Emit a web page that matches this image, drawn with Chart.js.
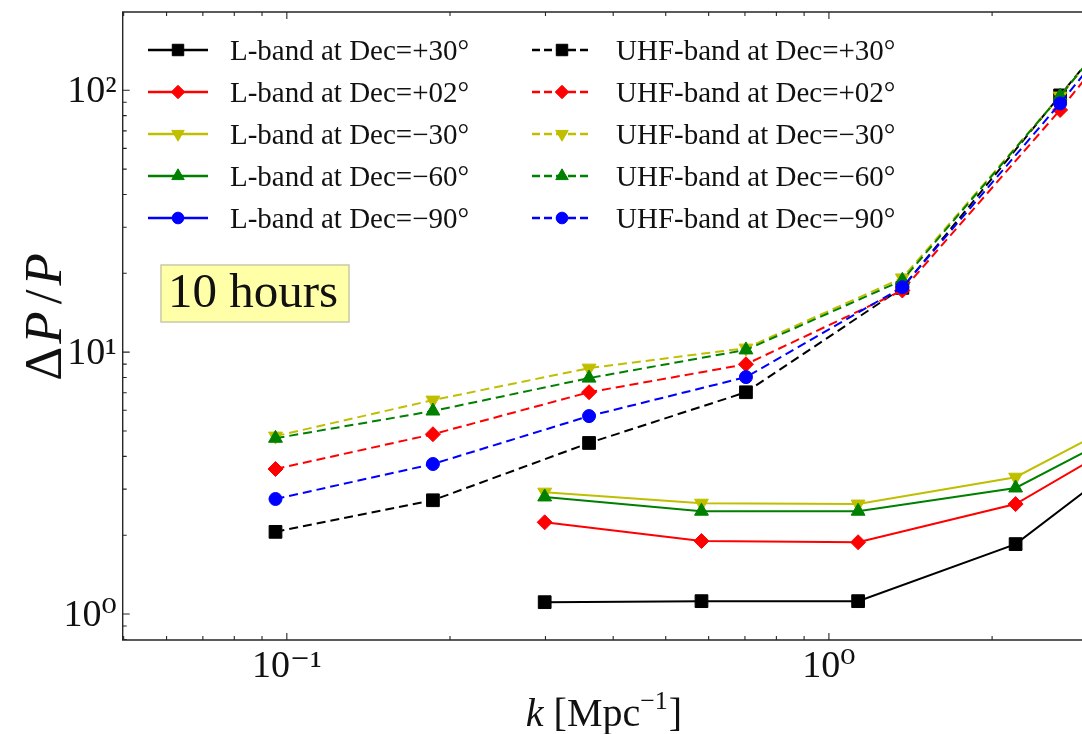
<!DOCTYPE html>
<html>
<head>
<meta charset="utf-8">
<script src="https://cdn.jsdelivr.net/npm/chart.js@4.4.0/dist/chart.umd.min.js"></script>
<style>
  html, body { margin: 0; padding: 0; background: #fff; overflow: hidden; }
  canvas { display: block; }
</style>
</head>
<body>
<canvas id="psChart" width="1082" height="734"></canvas>
<script>
// k [Mpc^-1] sampled by each band
const kUHF = [0.0953, 0.186, 0.361, 0.703, 1.366, 2.67, 5.2];
const kL = [0.299, 0.582, 1.132, 2.21, 4.3];

// Delta P / P, UHF-band (dashed)
const uhfP30 = [2.06, 2.72, 4.50, 7.03, 17.6, 95.6, 520];
const uhfP02 = [3.58, 4.86, 7.03, 8.99, 17.2, 84.1, 470];
const uhfM30 = [4.78, 6.56, 8.69, 10.36, 19.2, 95.0, 520];
const uhfM60 = [4.69, 5.96, 7.96, 10.2, 18.8, 95.0, 520];
const uhfM90 = [2.75, 3.74, 5.70, 8.03, 17.7, 89.1, 490];

// Delta P / P, L-band (solid)
const lP30 = [1.11, 1.12, 1.12, 1.85, 5.29];
const lP02 = [2.24, 1.90, 1.88, 2.63, 5.87];
const lM30 = [2.92, 2.65, 2.63, 3.33, 6.85];
const lM60 = [2.80, 2.47, 2.47, 3.03, 6.22];
const lM90 = []; // no L-band point at Dec=-90 shows in this range

const decs = ["+30°", "+02°", "−30°", "−60°", "−90°"];
const xTicks = [0.1, 1];
const yTicks = [1, 10, 100];

const colors = ["#000000", "#ff0000", "#bfbf00", "#008000", "#0000ff"];
const markers = ["rect", "rectRot", "triangle", "triangle", "circle"];
const markerRot = [0, 0, 180, 0, 0];
const markerSize = [9, 7.5, 8, 8, 6.5];

const SERIF = "'Liberation Serif', 'DejaVu Serif', serif";
const SUP = { "-": "⁻", "0": "⁰", "1": "¹", "2": "²", "3": "³" };
const pow10 = v => "10" + String(Math.round(Math.log10(v))).split("").map(c => SUP[c]).join("");

function makeSet(label, ks, vals, i, dashed, n) {
  return {
    label: label,
    data: vals.map((v, j) => ({ x: ks[j], y: v })),
    borderColor: colors[i],
    backgroundColor: colors[i],
    borderWidth: 2,
    borderDash: dashed ? [9, 5] : [],
    pointStyle: markers[i],
    pointRotation: markerRot[i],
    pointRadius: markerSize[i],
    pointHoverRadius: markerSize[i],
    pointBorderWidth: 1,
    pointBorderColor: colors[i],
    pointBackgroundColor: colors[i],
    tension: 0,
    order: 20 - n
  };
}

const lSets = [lP30, lP02, lM30, lM60, lM90];
const uSets = [uhfP30, uhfP02, uhfM30, uhfM60, uhfM90];
const datasets = [];
lSets.forEach((d, i) => datasets.push(makeSet("L-band at Dec=" + decs[i], kL, d, i, false, datasets.length)));
uSets.forEach((d, i) => datasets.push(makeSet("UHF-band at Dec=" + decs[i], kUHF, d, i, true, datasets.length)));

function logTicks(min, max) {
  const out = [];
  for (let e = Math.floor(Math.log10(min)); e <= Math.ceil(Math.log10(max)); e++) {
    for (let m = 1; m < 10; m++) {
      const v = m * Math.pow(10, e);
      if (v >= min && v <= max) out.push({ v: v, major: m === 1 });
    }
  }
  return out;
}

// draw text made of runs with different fonts, centred on (cx, base)
function drawRuns(ctx, runs, cx, base) {
  let w = 0;
  runs.forEach(r => { ctx.font = r.font; w += (r.pre || 0) + ctx.measureText(r.t).width + (r.post || 0); });
  let x = cx - w / 2;
  ctx.textAlign = "left";
  ctx.textBaseline = "alphabetic";
  runs.forEach(r => {
    ctx.font = r.font;
    x += r.pre || 0;
    ctx.fillText(r.t, x, base + (r.dy || 0));
    x += ctx.measureText(r.t).width + (r.post || 0);
  });
}

const framePlugin = {
  id: "frame",
  afterDraw(chart) {
    const { ctx, chartArea: a, scales } = chart;
    const x = scales.x, y = scales.y;
    ctx.save();
    ctx.strokeStyle = "#262626";
    ctx.lineWidth = 1.4;
    ctx.beginPath();
    ctx.moveTo(a.right + 2, a.top);
    ctx.lineTo(a.left, a.top);
    ctx.lineTo(a.left, a.bottom);
    ctx.lineTo(a.right + 2, a.bottom);
    ctx.stroke();

    ctx.lineWidth = 1.1;
    ctx.beginPath();
    logTicks(x.min, x.max).forEach(t => {
      const px = x.getPixelForValue(t.v);
      const len = t.major ? 7 : 4;
      ctx.moveTo(px, a.bottom); ctx.lineTo(px, a.bottom - len);
      ctx.moveTo(px, a.top); ctx.lineTo(px, a.top + len);
    });
    logTicks(y.min, y.max).forEach(t => {
      const py = y.getPixelForValue(t.v);
      const len = t.major ? 7 : 4;
      ctx.moveTo(a.left, py); ctx.lineTo(a.left + len, py);
    });
    ctx.stroke();

    // axis titles
    ctx.fillStyle = "#111";
    drawRuns(ctx, [
      { t: "k", font: "italic 40px " + SERIF },
      { t: " [Mpc", font: "40px " + SERIF },
      { t: "−1", font: "26px " + SERIF, dy: -17 },
      { t: "]", font: "40px " + SERIF, pre: 1 }
    ], 604, 726);

    ctx.save();
    ctx.translate(61, 317);
    ctx.rotate(-Math.PI / 2);
    drawRuns(ctx, [
      { t: "Δ", font: "53px " + SERIF, post: 3 },
      { t: "P", font: "italic 53px " + SERIF },
      { t: "/", font: "53px " + SERIF, pre: 7, post: 4 },
      { t: "P", font: "italic 53px " + SERIF }
    ], 0, 0);
    ctx.restore();

    // "10 hours" note
    ctx.fillStyle = "#ffffa8";
    ctx.strokeStyle = "#c9c9a6";
    ctx.lineWidth = 1.5;
    ctx.fillRect(161, 265, 188, 57);
    ctx.strokeRect(161, 265, 188, 57);
    ctx.fillStyle = "#111";
    ctx.font = "49px " + SERIF;
    ctx.textAlign = "left";
    ctx.textBaseline = "alphabetic";
    ctx.fillText("10 hours", 168, 307);

    // legend, two columns
    const cols = [{ x0: 148, x1: 208, tx: 230 }, { x0: 532, x1: 592, tx: 616 }];
    const rowY = [50, 92, 134, 176, 218];
    ctx.font = "29px " + SERIF;
    ctx.textBaseline = "middle";
    chart.data.datasets.forEach((ds, i) => {
      const c = cols[Math.floor(i / 5)], ry = rowY[i % 5];
      ctx.strokeStyle = ds.borderColor;
      ctx.lineWidth = 2.6;
      ctx.setLineDash(ds.borderDash.length ? [8, 4] : []);
      ctx.beginPath();
      ctx.moveTo(c.x0, ry); ctx.lineTo(c.x1, ry);
      ctx.stroke();
      ctx.setLineDash([]);
      ctx.fillStyle = ds.pointBackgroundColor;
      ctx.lineWidth = 1;
      Chart.helpers.drawPoint(ctx, {
        pointStyle: ds.pointStyle, rotation: ds.pointRotation,
        radius: ds.pointRadius * 0.9, borderWidth: 1
      }, (c.x0 + c.x1) / 2, ry);
      ctx.fillStyle = "#111";
      ctx.fillText(ds.label, c.tx, ry + 2);
    });
    ctx.restore();
  }
};

new Chart(document.getElementById("psChart"), {
  type: "line",
  data: { datasets: datasets },
  plugins: [framePlugin],
  options: {
    responsive: false,
    animation: false,
    layout: { autoPadding: false, padding: { top: 12, right: 0, left: 0, bottom: 0 } },
    plugins: { legend: { display: false }, tooltip: { enabled: false } },
    scales: {
      x: {
        type: "logarithmic",
        min: 0.0498,
        max: 2.93,
        grid: { display: false, drawTicks: false },
        border: { display: false },
        afterFit: s => { s.height = 94; s.paddingLeft = 0; s.paddingRight = 0; },
        afterBuildTicks: s => { s.ticks = xTicks.map(v => ({ value: v })); },
        ticks: {
          padding: 4,
          color: "#111",
          font: { family: SERIF, size: 38 },
          maxRotation: 0,
          callback: v => pow10(v)
        }
      },
      y: {
        type: "logarithmic",
        min: 0.796,
        max: 199,
        grid: { display: false, drawTicks: false },
        border: { display: false },
        afterFit: s => { s.width = 122.7; s.paddingTop = 0; s.paddingBottom = 0; },
        afterBuildTicks: s => { s.ticks = yTicks.map(v => ({ value: v })); },
        ticks: {
          padding: 6,
          labelOffset: 2,
          color: "#111",
          font: { family: SERIF, size: 38 },
          callback: v => pow10(v)
        }
      }
    }
  }
});
</script>
</body>
</html>
